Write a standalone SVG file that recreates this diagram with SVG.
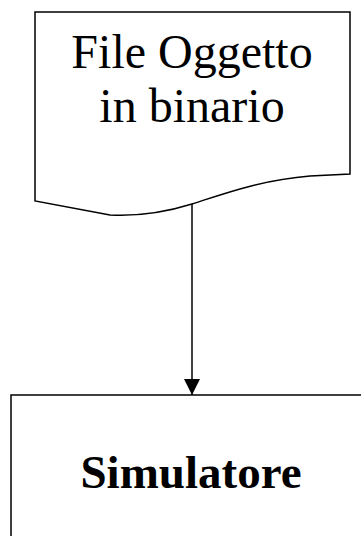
<svg xmlns="http://www.w3.org/2000/svg" width="361" height="536" viewBox="0 0 361 536">
<style>
.shape{fill:#fff;stroke:#000;stroke-width:1.5}
.t{font-family:"Liberation Serif","Times New Roman",serif;fill:#000;text-anchor:middle}
.conn{stroke:#000;stroke-width:1.5;fill:none}
</style>
<defs>
<marker id="arr" markerWidth="16" markerHeight="16" refX="16" refY="8" orient="auto" markerUnits="userSpaceOnUse">
<path d="M0,0 L16,8 L0,16 Z" fill="#000"/>
</marker>
</defs>
<rect width="361" height="536" fill="#fff"/>
<g id="file-oggetto">
<path class="shape" d="M35,12 H350 V174 L310,176 C260,180 220,195 192,204 C160,214 130,216 110,215 L35,201 Z"/>
<text class="t" x="192" y="68" font-size="48">File Oggetto</text>
<text class="t" x="192" y="122" font-size="48">in binario</text>
</g>
<g id="simulatore">
<rect class="shape" x="11" y="395" width="360" height="160"/>
<text class="t" x="191" y="488" font-size="47" font-weight="bold">Simulatore</text>
</g>
<g id="connectors">
<line class="conn" x1="192" y1="204" x2="192" y2="395" marker-end="url(#arr)"/>
</g>
</svg>
